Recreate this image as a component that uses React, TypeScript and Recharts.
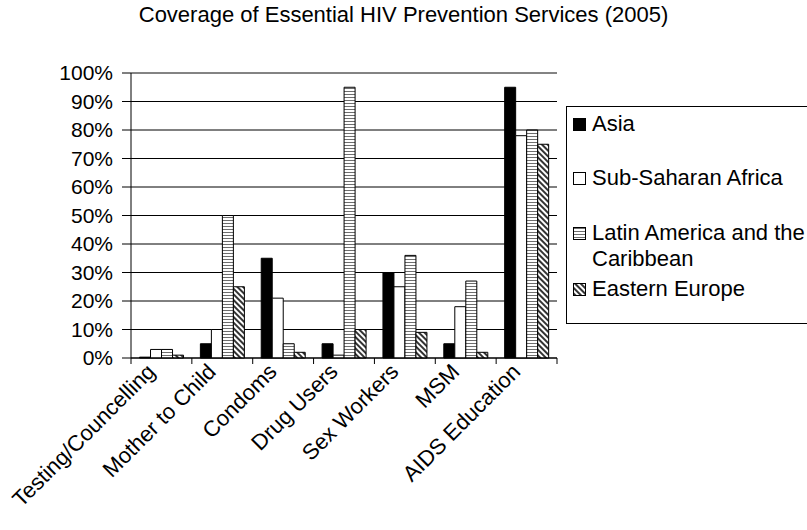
import { Bar, BarChart, CartesianGrid, ReferenceLine, XAxis, YAxis } from "recharts";

const categories = [
  "Testing/Councelling",
  "Mother to Child",
  "Condoms",
  "Drug Users",
  "Sex Workers",
  "MSM",
  "AIDS Education",
];
const asia = [0.3, 5, 35, 5, 30, 5, 95];
const subSaharanAfrica = [3, 10, 21, 1, 25, 18, 78];
const latinAmerica = [3, 50, 5, 95, 36, 27, 80];
const easternEurope = [1, 25, 2, 10, 9, 2, 75];
const yTicks = [0, 10, 20, 30, 40, 50, 60, 70, 80, 90, 100];

const series = [
  { key: "asia", name: "Asia", fill: "#000" },
  { key: "ssa", name: "Sub-Saharan Africa", fill: "#fff" },
  { key: "lac", name: "Latin America and the Caribbean", fill: "url(#lacStripes)" },
  { key: "ee", name: "Eastern Europe", fill: "url(#eeHatch)" },
];

const data = categories.map((category, i) => ({
  category,
  asia: asia[i],
  ssa: subSaharanAfrica[i],
  lac: latinAmerica[i],
  ee: easternEurope[i],
}));

const FONT = "'Liberation Sans', Arial, sans-serif";

// category boundary ticks + rotated label
function CategoryTick(props: any) {
  const { x, y, payload, index, width } = props;
  const band = width / categories.length;
  const left = x - band / 2;
  const lx = x - 5;
  const ly = y + 15;
  return (
    <g>
      <line x1={left} y1={y} x2={left} y2={y + 6} stroke="#000" />
      {index === categories.length - 1 && (
        <line x1={left + band} y1={y} x2={left + band} y2={y + 6} stroke="#000" />
      )}
      <text
        x={lx}
        y={ly}
        textAnchor="end"
        fontSize={22}
        fontFamily={FONT}
        fill="#000"
        transform={`rotate(-45, ${lx}, ${ly})`}
      >
        {payload.value}
      </text>
    </g>
  );
}

function LegendIcon({ fill }: { fill: string }) {
  return (
    <svg width={13} height={13} style={{ flex: "none", marginTop: 7 }}>
      <rect x={0.5} y={0.5} width={12} height={12} fill={fill} stroke="#000" />
    </svg>
  );
}

function LegendBox() {
  const gaps = [4, 28, 29, 4];
  return (
    <div
      style={{
        position: "absolute",
        left: 566,
        top: 106,
        width: 250,
        height: 218,
        boxSizing: "border-box",
        border: "1px solid #000",
        fontFamily: FONT,
        fontSize: 22,
        lineHeight: "26px",
      }}
    >
      {series.map((s, i) => (
        <div key={s.key} style={{ display: "flex", marginTop: gaps[i], paddingLeft: 6 }}>
          <LegendIcon fill={s.fill} />
          <div style={{ marginLeft: 6 }}>
            {s.key === "lac" ? (
              <>
                Latin America and the
                <br />
                Caribbean
              </>
            ) : (
              s.name
            )}
          </div>
        </div>
      ))}
    </div>
  );
}

export default function App() {
  return (
    <div style={{ position: "relative", width: 807, height: 530, overflow: "hidden", background: "#fff" }}>
      <style>{`body{margin:0}`}</style>
      <svg width={0} height={0} style={{ position: "absolute" }}>
        <defs>
          <pattern id="lacStripes" patternUnits="userSpaceOnUse" width={6} height={3}>
            <rect x={0} y={0} width={6} height={3} fill="#fff" />
            <rect x={0} y={1} width={6} height={1} fill="#6e6e6e" />
          </pattern>
          <pattern
            id="eeHatch"
            patternUnits="userSpaceOnUse"
            width={4}
            height={4}
            patternTransform="rotate(-45)"
          >
            <rect x={0} y={0} width={4} height={4} fill="#fff" />
            <line x1={1} y1={0} x2={1} y2={4} stroke="#000" strokeWidth={1.6} />
          </pattern>
        </defs>
      </svg>
      <div
        style={{
          position: "absolute",
          left: 0,
          top: 2,
          width: 807,
          textAlign: "center",
          fontFamily: FONT,
          fontSize: 22,
        }}
      >
        Coverage of Essential HIV Prevention Services (2005)
      </div>
      <BarChart
        width={807}
        height={530}
        data={data}
        margin={{ top: 73, right: 250, bottom: 0, left: 0 }}
        barCategoryGap="14%"
        barGap={0}
      >
        <CartesianGrid vertical={false} stroke="#000" />
        <XAxis
          dataKey="category"
          interval={0}
          height={172}
          tickSize={0}
          tickMargin={0}
          axisLine={{ stroke: "#000" }}
          tickLine={false}
          tick={<CategoryTick />}
        />
        <YAxis
          type="number"
          domain={[0, 100]}
          ticks={yTicks}
          interval={0}
          width={131}
          tickSize={9}
          tickMargin={9}
          tickFormatter={(v: number) => `${v}%`}
          axisLine={{ stroke: "#000" }}
          tickLine={{ stroke: "#000" }}
          tick={{ fill: "#000", fontSize: 21, fontFamily: FONT }}
        />
        <YAxis
          yAxisId="frame"
          orientation="right"
          domain={[0, 100]}
          width={0}
          tick={false}
          tickLine={false}
          axisLine={{ stroke: "#888" }}
        />
        <ReferenceLine y={100} stroke="#888" />
        {series.map((s) => (
          <Bar
            key={s.key}
            dataKey={s.key}
            name={s.name}
            fill={s.fill}
            stroke="#000"
            strokeWidth={1}
            isAnimationActive={false}
          />
        ))}
      </BarChart>
      <LegendBox />
    </div>
  );
}
